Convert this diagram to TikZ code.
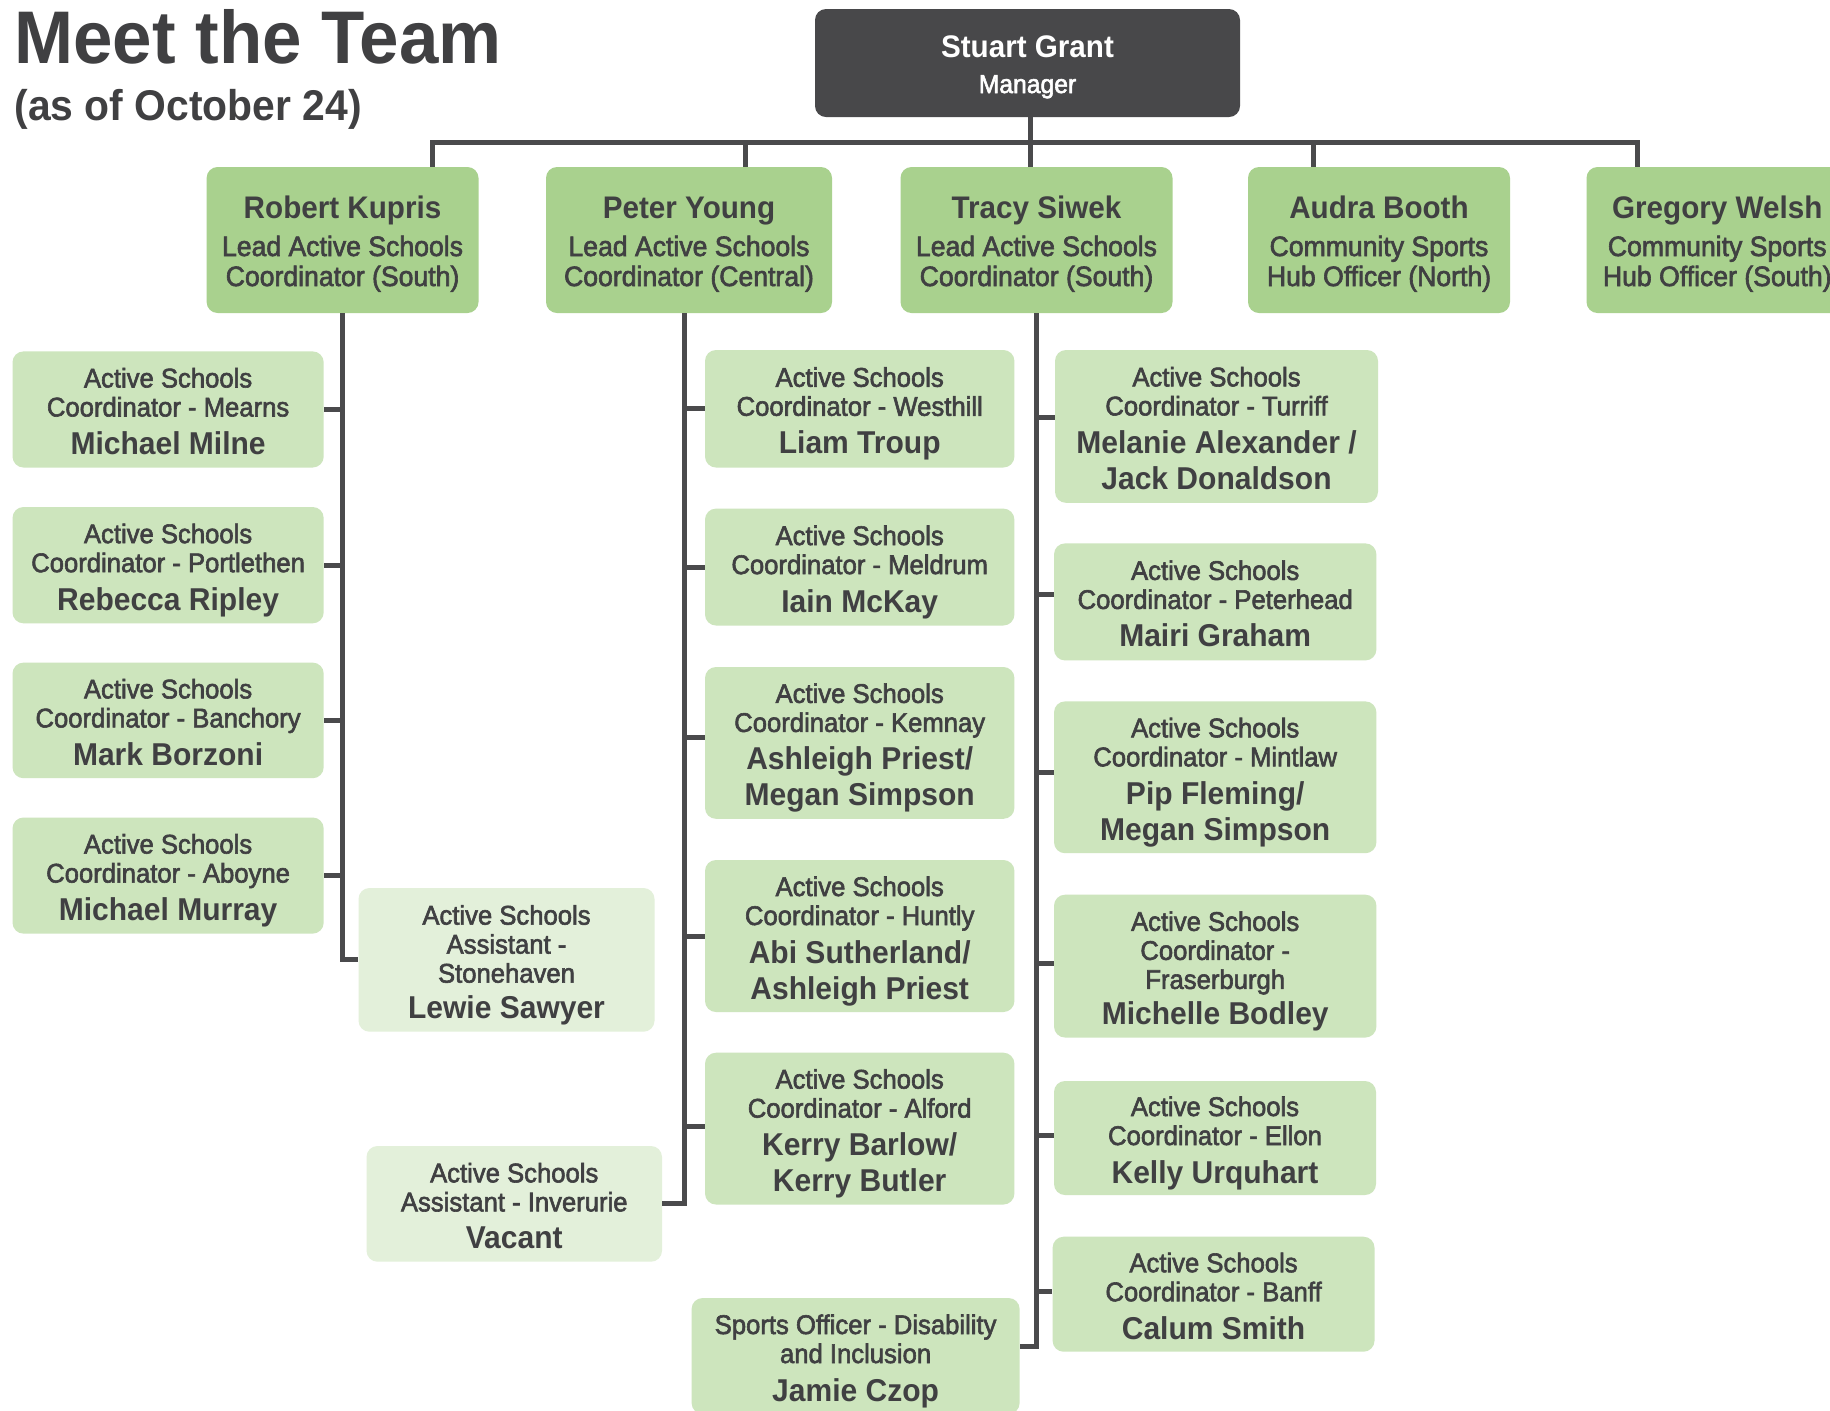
\documentclass[tikz,border=0pt]{standalone}
\usepackage{fontspec}
\newfontfamily\medfam[FakeStretch=0.95,FakeBold=2.2]{Liberation Sans}
\newfontfamily\boldfam[FakeStretch=0.95]{Liberation Sans}
\definecolor{txt}{HTML}{404042}
\definecolor{dk}{HTML}{48484A}
\definecolor{ln}{HTML}{4A4A4C}
\definecolor{hg}{HTML}{A9D18E}
\definecolor{sg}{HTML}{CDE5BD}
\definecolor{lg}{HTML}{E3F0DA}
\newcommand\fstr{\rule{0pt}{15pt}}
\newcommand\hstr{\rule{0pt}{15.5pt}}
\newcommand\lstr{\rule[-3.5pt]{0pt}{0pt}}
\newcommand\pname[1]{{\boldfam\bfseries\fontsize{15.8pt}{19pt}\selectfont #1}}
\newcommand\hname[1]{{\boldfam\bfseries\fontsize{15.6pt}{19pt}\selectfont #1}}
\newcommand\mybox[7]{\node[#2,minimum width={(#5-#3)*0.5pt},minimum height={(#6-#4)*0.5pt}] (#1) at ({(#3+#5)/2},{(#4+#6)/2}) {#7};}
\tikzset{
  orgbox/.style={rounded corners=5.5pt, inner sep=0pt, align=center, text=txt},
  mgrbox/.style={orgbox, fill=dk, text=white, font=\medfam\fontsize{13pt}{18pt}\selectfont},
  headbox/.style={orgbox, fill=hg, font=\medfam\fontsize{14pt}{19pt}\selectfont},
  subbox/.style={orgbox, fill=sg, font=\medfam\fontsize{13.5pt}{19pt}\selectfont},
  lightbox/.style={subbox, fill=lg},
  conn/.style={draw=ln, line width=2.5pt},
  titletext/.style={anchor=base west, inner sep=0pt, text=txt},
}
\begin{document}
\begin{tikzpicture}[x=0.5pt,y=-0.5pt]
\clip (0,0) rectangle (1830,1410);
\fill[white] (0,0) rectangle (1830,1410);
% titles
\node[titletext, font=\boldfam\bfseries\fontsize{37.3pt}{40pt}\selectfont] (title) at (14,63) {Meet the Team};
\node[titletext, font=\boldfam\bfseries\fontsize{21.5pt}{24pt}\selectfont] (subtitle) at (14,120.7) {(as of October 24)};
% manager
\mybox{mgr}{mgrbox}{815}{9}{1240}{117}{\hstr\hname{Stuart Grant}\\Manager\lstr}
% heads
\mybox{rk}{headbox}{206.6}{167}{478.5}{313}{\hstr\hname{Robert Kupris}\\Lead Active Schools\\[-4pt]Coordinator (South)\lstr}
\mybox{py}{headbox}{546}{167}{832}{313}{\hstr\hname{Peter Young}\\Lead Active Schools\\[-4pt]Coordinator (Central)\lstr}
\mybox{ts}{headbox}{900.5}{167}{1172.5}{313}{\hstr\hname{Tracy Siwek}\\Lead Active Schools\\[-4pt]Coordinator (South)\lstr}
\mybox{ab}{headbox}{1248}{167}{1510}{313}{\hstr\hname{Audra Booth}\\Community Sports\\[-4pt]Hub Officer (North)\lstr}
\mybox{gw}{headbox}{1586.5}{167}{1848}{313}{\hstr\hname{Gregory Welsh}\\Community Sports\\[-4pt]Hub Officer (South)\lstr}
% Robert column
\mybox{mm}{subbox}{12.5}{351.4}{323.7}{467.5}{\fstr Active Schools\\[-4.5pt]Coordinator - Mearns\\\pname{Michael Milne}\lstr}
\mybox{rr}{subbox}{12.5}{507}{323.7}{623.3}{\fstr Active Schools\\[-4.5pt]Coordinator - Portlethen\\\pname{Rebecca Ripley}\lstr}
\mybox{mb}{subbox}{12.5}{662.6}{323.7}{778.2}{\fstr Active Schools\\[-4.5pt]Coordinator - Banchory\\\pname{Mark Borzoni}\lstr}
\mybox{mmu}{subbox}{12.5}{817.5}{323.7}{933.6}{\fstr Active Schools\\[-4.5pt]Coordinator - Aboyne\\\pname{Michael Murray}\lstr}
\mybox{lw}{lightbox}{358.5}{888}{654.5}{1031.7}{\fstr Active Schools\\[-4.5pt]Assistant -\\[-4.5pt]Stonehaven\\[-1.25pt]\pname{Lewie Sawyer}\lstr}
% Peter column
\mybox{lt}{subbox}{705}{350}{1014.4}{467.5}{\fstr Active Schools\\[-4.5pt]Coordinator - Westhill\\\pname{Liam Troup}\lstr}
\mybox{im}{subbox}{705}{508.6}{1014.4}{625.5}{\fstr Active Schools\\[-4.5pt]Coordinator - Meldrum\\\pname{Iain McKay}\lstr}
\mybox{ap}{subbox}{705}{667}{1014.4}{818.8}{\fstr Active Schools\\[-4.5pt]Coordinator - Kemnay\\\pname{Ashleigh Priest/}\\[-1pt]\pname{Megan Simpson}\lstr}
\mybox{as}{subbox}{705}{860}{1014.4}{1012}{\fstr Active Schools\\[-4.5pt]Coordinator - Huntly\\\pname{Abi Sutherland/}\\[-1pt]\pname{Ashleigh Priest}\lstr}
\mybox{kb}{subbox}{705}{1052.7}{1014.4}{1204.5}{\fstr Active Schools\\[-4.5pt]Coordinator - Alford\\\pname{Kerry Barlow/}\\[-1pt]\pname{Kerry Butler}\lstr}
\mybox{vac}{lightbox}{366.5}{1146}{662}{1261.7}{\fstr Active Schools\\[-4.5pt]Assistant - Inverurie\\[-0.5pt]\pname{Vacant}\lstr}
% Tracy column
\mybox{ma}{subbox}{1055}{350}{1378}{502.8}{\fstr Active Schools\\[-4.5pt]Coordinator - Turriff\\\pname{Melanie Alexander /}\\[-1pt]\pname{Jack Donaldson}\lstr}
\mybox{mg}{subbox}{1054}{543.4}{1376.4}{660.4}{\fstr Active Schools\\[-4.5pt]Coordinator - Peterhead\\\pname{Mairi Graham}\lstr}
\mybox{pf}{subbox}{1054}{701.4}{1376.4}{853.2}{\fstr Active Schools\\[-4.5pt]Coordinator - Mintlaw\\\pname{Pip Fleming/}\\[-1pt]\pname{Megan Simpson}\lstr}
\mybox{mbo}{subbox}{1054}{894.7}{1376.4}{1037.5}{\fstr Active Schools\\[-4.5pt]Coordinator -\\[-4.5pt]Fraserburgh\\[-1.25pt]\pname{Michelle Bodley}\lstr}
\mybox{ku}{subbox}{1054}{1081}{1376}{1195}{\fstr Active Schools\\[-4.5pt]Coordinator - Ellon\\\pname{Kelly Urquhart}\lstr}
\mybox{cs}{subbox}{1052.6}{1236.7}{1374.5}{1351.7}{\fstr Active Schools\\[-4.5pt]Coordinator - Banff\\\pname{Calum Smith}\lstr}
\mybox{jc}{subbox}{691.6}{1298}{1019.6}{1414}{\fstr Sports Officer - Disability\\[-4.5pt]and Inclusion\\\pname{Jamie Czop}\lstr}
% top connectors
\coordinate (j1) at (432.5,142);
\coordinate (j2) at (745,142);
\coordinate (j3) at (1030.6,142);
\coordinate (j4) at (1313,142);
\coordinate (j5) at (1637.7,142);
\draw[conn] (j1 |- rk.north) -- (j1) -- (j5) -- (j5 |- gw.north);
\draw[conn] (j2) -- (j2 |- py.north);
\draw[conn] (j4) -- (j4 |- ab.north);
\draw[conn] (j3 |- mgr.south) -- (j3 |- ts.north);
% Robert column connectors
\draw[conn] (rk.south) |- (lw.west);
\foreach \b in {mm,rr,mb,mmu} \draw[conn] (\b.east) -- (\b.east -| rk.south);
% Peter column connectors
\coordinate (pv) at ([xshift=-2.25pt]py.south);
\draw[conn] (pv) |- (vac.east);
\draw[conn] (lt.west) -- (lt.west -| pv);
\draw[conn] (im.west) -- (im.west -| pv);
\draw[conn] ([yshift=2.65pt]ap.west) -- ([yshift=2.65pt]ap.west -| pv);
\draw[conn] (as.west) -- (as.west -| pv);
\draw[conn] ([yshift=1.3pt]kb.west) -- ([yshift=1.3pt]kb.west -| pv);
% Tracy column connectors
\draw[conn] (ts.south) |- ([yshift=4.65pt]jc.east);
\draw[conn] ([yshift=4.7pt]ma.west) -- ([yshift=4.7pt]ma.west -| ts.south);
\draw[conn] ([yshift=3.6pt]mg.west) -- ([yshift=3.6pt]mg.west -| ts.south);
\draw[conn] ([yshift=2.65pt]pf.west) -- ([yshift=2.65pt]pf.west -| ts.south);
\draw[conn] ([yshift=1.5pt]mbo.west) -- ([yshift=1.5pt]mbo.west -| ts.south);
\draw[conn] ([yshift=1.5pt]ku.west) -- ([yshift=1.5pt]ku.west -| ts.south);
\draw[conn] ([yshift=1.25pt]cs.west) -- ([yshift=1.25pt]cs.west -| ts.south);
\end{tikzpicture}
\end{document}
